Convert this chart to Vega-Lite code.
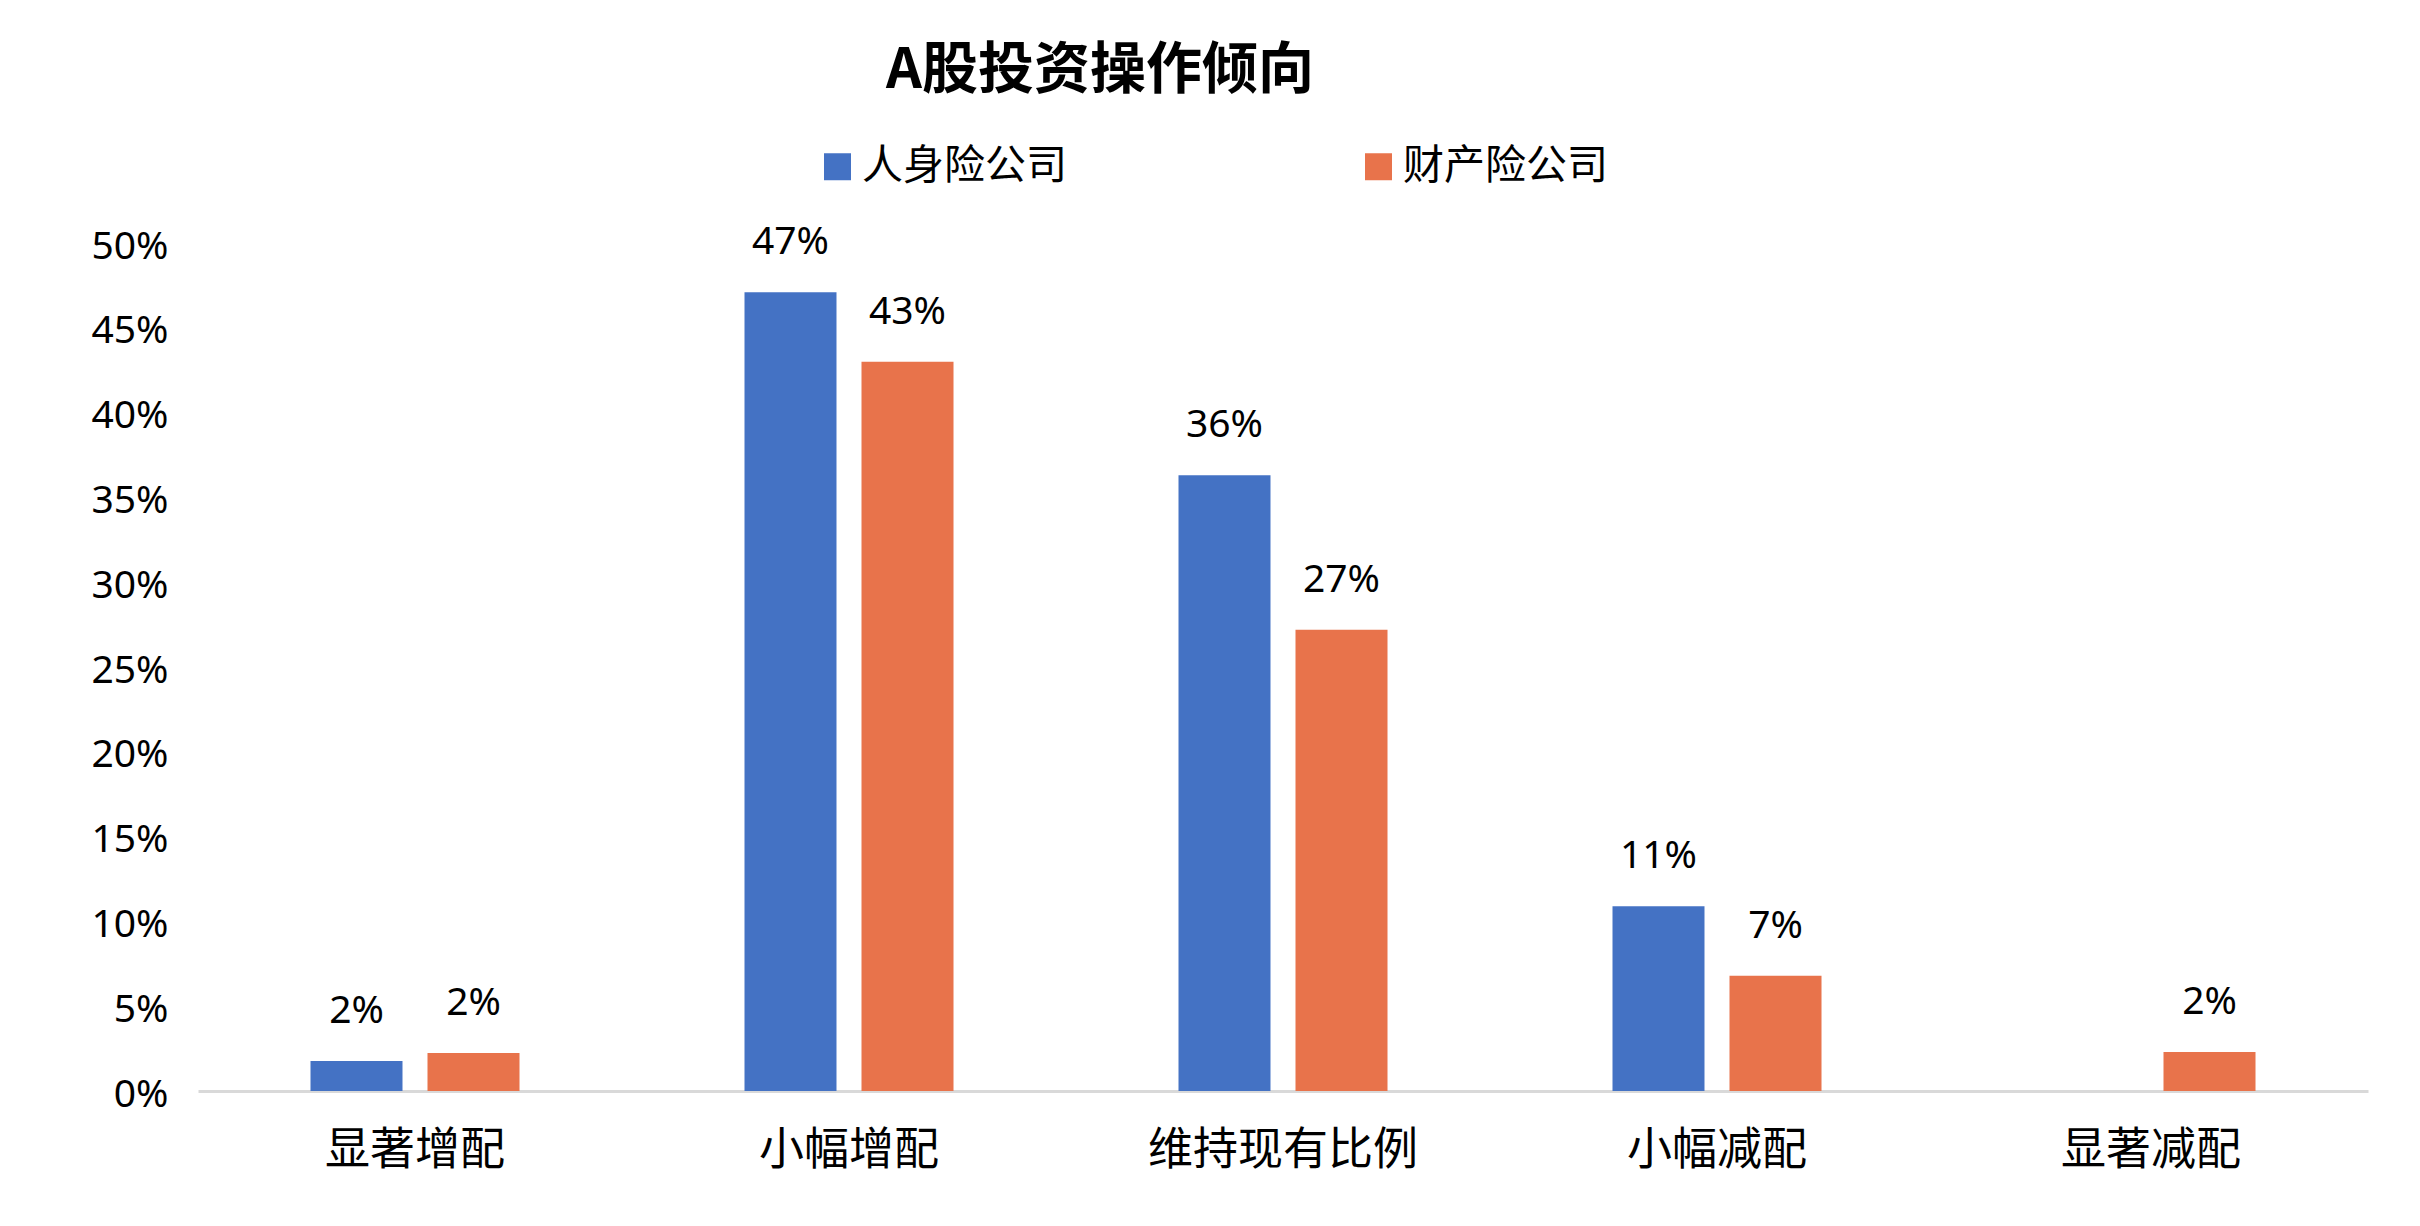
{
  "$schema": "https://vega.github.io/schema/vega-lite/v6.json",
  "autosize": "none",
  "width": 2170,
  "height": 848,
  "padding": {"left": 198, "top": 243, "right": 52, "bottom": 135},
  "background": "white",
  "title": {
    "text": "A股投资操作倾向",
    "font": "Noto Sans CJK SC",
    "fontSize": 56,
    "fontWeight": "bold",
    "color": "#000000",
    "anchor": "middle",
    "dx": -183,
    "offset": 46
  },
  "data": {
    "values": [
      {"category": "显著增配", "company": "人身险公司", "share": 0.0177},
      {"category": "显著增配", "company": "财产险公司", "share": 0.0224},
      {"category": "小幅增配", "company": "人身险公司", "share": 0.471},
      {"category": "小幅增配", "company": "财产险公司", "share": 0.430},
      {"category": "维持现有比例", "company": "人身险公司", "share": 0.363},
      {"category": "维持现有比例", "company": "财产险公司", "share": 0.272},
      {"category": "小幅减配", "company": "人身险公司", "share": 0.109},
      {"category": "小幅减配", "company": "财产险公司", "share": 0.068},
      {"category": "显著减配", "company": "财产险公司", "share": 0.023}
    ]
  },
  "encoding": {
    "x": {
      "field": "category",
      "type": "nominal",
      "sort": ["显著增配", "小幅增配", "维持现有比例", "小幅减配", "显著减配"],
      "scale": {"paddingInner": 0, "paddingOuter": 0},
      "axis": {
        "title": null,
        "labelAngle": 0,
        "labelFont": "Noto Sans CJK SC",
        "labelFontSize": 45,
        "labelColor": "#000000",
        "labelPadding": 37,
        "labelLimit": 600,
        "ticks": false,
        "domainColor": "#D9D9D9",
        "domainWidth": 3,
        "grid": false
      }
    },
    "xOffset": {
      "field": "company",
      "type": "nominal",
      "sort": ["人身险公司", "财产险公司"],
      "scale": {"paddingInner": 0.2137, "paddingOuter": 0.9615}
    },
    "y": {
      "field": "share",
      "type": "quantitative",
      "scale": {"domain": [0, 0.5], "nice": false},
      "axis": {
        "title": null,
        "format": ".0%",
        "values": [0, 0.05, 0.1, 0.15, 0.2, 0.25, 0.3, 0.35, 0.4, 0.45, 0.5],
        "labelFont": "Noto Sans",
        "labelFontSize": 39,
        "labelColor": "#000000",
        "labelPadding": 30,
        "labelOffset": 3,
        "ticks": false,
        "domain": false,
        "grid": false
      }
    }
  },
  "layer": [
    {
      "mark": {"type": "bar"},
      "encoding": {
        "color": {
          "field": "company",
          "type": "nominal",
          "scale": {"domain": ["人身险公司", "财产险公司"], "range": ["#4472C4", "#E8734B"]},
          "legend": {
            "title": null,
            "orient": "none",
            "legendX": 619,
            "legendY": -97,
            "direction": "horizontal",
            "columns": 2,
            "columnPadding": 291,
            "padding": 0,
            "symbolType": "square",
            "symbolSize": 729,
            "symbolStrokeWidth": 0,
            "labelFont": "Noto Sans CJK SC",
            "labelFontSize": 41,
            "labelColor": "#000000",
            "labelOffset": 4,
            "labelLimit": 400
          }
        }
      }
    },
    {
      "mark": {
        "type": "text",
        "baseline": "alphabetic",
        "dy": -38,
        "font": "Noto Sans",
        "fontSize": 39,
        "color": "#000000"
      },
      "encoding": {
        "text": {"field": "share", "type": "quantitative", "format": ".0%"}
      }
    }
  ],
  "config": {
    "view": {"stroke": null}
  }
}
